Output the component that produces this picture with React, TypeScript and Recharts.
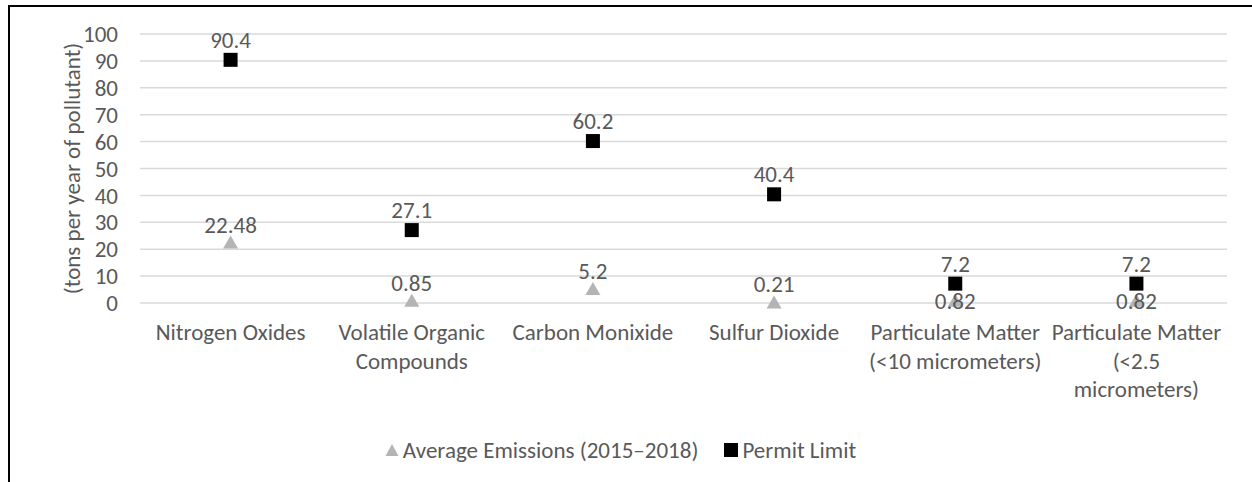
import {
  ComposedChart,
  Line,
  XAxis,
  YAxis,
  CartesianGrid,
  Legend,
  LabelList,
} from "recharts";

const categories = [
  "Nitrogen Oxides",
  "Volatile Organic Compounds",
  "Carbon Monixide",
  "Sulfur Dioxide",
  "Particulate Matter (<10 micrometers)",
  "Particulate Matter (<2.5 micrometers)",
];
const tickLines = [
  ["Nitrogen Oxides"],
  ["Volatile Organic", "Compounds"],
  ["Carbon Monixide"],
  ["Sulfur Dioxide"],
  ["Particulate Matter", "(<10 micrometers)"],
  ["Particulate Matter", "(<2.5", "micrometers)"],
];
const avgEmissions = [22.48, 0.85, 5.2, 0.21, 0.82, 0.82];
const permitLimit = [90.4, 27.1, 60.2, 40.4, 7.2, 7.2];
const yTicks = [0, 10, 20, 30, 40, 50, 60, 70, 80, 90, 100];

const data = categories.map((name, i) => ({
  name,
  avg: avgEmissions[i],
  permit: permitLimit[i],
}));

const FONT = "Carlito, Lato, 'Open Sans', sans-serif";
const TEXT = "#595959";
const GRAY = "#b4b4b4";
const FS = 23;

const Triangle = (props: any) => {
  const { cx, cy } = props;
  if (cx == null || cy == null) return null;
  return (
    <path
      d={`M${cx},${cy - 7} L${cx + 7.5},${cy + 6} L${cx - 7.5},${cy + 6} Z`}
      fill={GRAY}
    />
  );
};

const Square = (props: any) => {
  const { cx, cy } = props;
  if (cx == null || cy == null) return null;
  return <rect x={cx - 7} y={cy - 7} width={14} height={14} fill="#000" />;
};

// avg labels sit on the point itself when the permit marker is right above it
const AvgLabel = (props: any) => {
  const { x, y, value, index } = props;
  const crowded = permitLimit[index] - avgEmissions[index] < 10;
  return (
    <text
      x={x}
      y={crowded ? y + 8 : y - 10}
      textAnchor="middle"
      fill={TEXT}
      fontSize={FS}
      fontFamily={FONT}
    >
      {value}
    </text>
  );
};

const CategoryTick = (props: any) => {
  const { x, y, payload } = props;
  const lines = tickLines[payload.index] || [payload.value];
  return (
    <text x={x} y={y} textAnchor="middle" fill={TEXT} fontSize={FS} fontFamily={FONT}>
      {lines.map((l: string, i: number) => (
        <tspan key={i} x={x} dy={i === 0 ? 29 : 28.5}>
          {l}
        </tspan>
      ))}
    </text>
  );
};

const LegendContent = () => (
  <div
    style={{
      display: "flex",
      justifyContent: "center",
      alignItems: "center",
      fontFamily: FONT,
      fontSize: FS,
      color: TEXT,
      paddingLeft: 4,
    }}
  >
    <svg width={14} height={14} style={{ marginRight: 4 }}>
      <path d="M7,1 L13.5,13 L0.5,13 Z" fill={GRAY} />
    </svg>
    <span>Average Emissions (2015–2018)</span>
    <svg width={14} height={14} style={{ marginLeft: 26, marginRight: 4 }}>
      <rect x={0} y={0} width={14} height={14} fill="#000" />
    </svg>
    <span>Permit Limit</span>
  </div>
);

export default function App() {
  return (
    <div
      style={{
        position: "absolute",
        left: 8,
        top: 5,
        borderLeft: "2px solid #000",
        borderTop: "2px solid #000",
        width: 1250,
        height: 480,
        background: "#fff",
      }}
    >
      <ComposedChart
        width={1242}
        height={475}
        data={data}
        margin={{ top: 27, right: 25, bottom: 18, left: 0 }}
      >
        <CartesianGrid vertical={false} stroke="#d9d9d9" strokeWidth={1.5} />
        <XAxis
          dataKey="name"
          scale="band"
          axisLine={false}
          tickLine={false}
          interval={0}
          height={133}
          tick={<CategoryTick />}
        />
        <YAxis
          domain={[0, 100]}
          ticks={yTicks}
          interval={0}
          axisLine={false}
          tickLine={false}
          tickMargin={16}
          width={130}
          tick={{ fill: TEXT, fontSize: FS, fontFamily: FONT }}
          label={{
            value: "(tons per year of pollutant)",
            angle: -90,
            position: "center",
            dx: -3,
            fill: TEXT,
            fontSize: FS,
            fontFamily: FONT,
          }}
        />
        <Legend verticalAlign="bottom" content={<LegendContent />} />
        <Line
          dataKey="permit"
          name="Permit Limit"
          stroke="none"
          dot={<Square />}
          activeDot={false}
          isAnimationActive={false}
        >
          <LabelList
            dataKey="permit"
            position="top"
            offset={12}
            fill={TEXT}
            fontSize={FS}
            fontFamily={FONT}
          />
        </Line>
        <Line
          dataKey="avg"
          name="Average Emissions (2015–2018)"
          stroke="none"
          dot={<Triangle />}
          activeDot={false}
          isAnimationActive={false}
        >
          <LabelList dataKey="avg" content={<AvgLabel />} />
        </Line>
      </ComposedChart>
    </div>
  );
}
